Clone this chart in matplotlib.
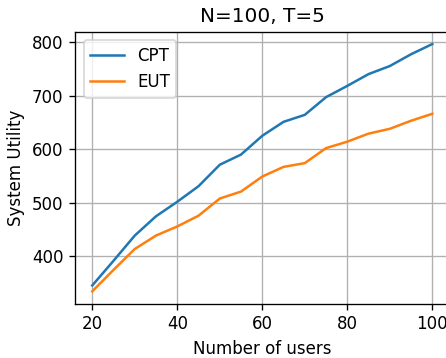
import matplotlib
matplotlib.use("Agg")
import matplotlib.pyplot as plt

users = [20, 25, 30, 35, 40, 45, 50, 55, 60, 65, 70, 75, 80, 85, 90, 95, 100]
cpt = [346, 392, 439, 475, 502, 531, 571, 590, 625, 651, 664, 697, 718, 740, 755, 777, 796]
eut = [335, 375, 414, 439, 456, 476, 508, 521, 549, 567, 574, 602, 614, 629, 638, 653, 666]

fig = plt.figure(figsize=(446 / 120, 358 / 120), dpi=120)
ax = fig.add_axes([0.1688, 0.1517, 0.8386, 0.7598])
ax.plot(users, cpt, label="CPT")
ax.plot(users, eut, label="EUT")
ax.set_xticks([20, 40, 60, 80, 100])
ax.set_yticks([400, 500, 600, 700, 800])
ax.grid(True)
ax.set_xlabel("Number of users")
ax.set_ylabel("System Utility")
ax.set_title("N=100, T=5")
ax.legend(loc="upper left")
fig.savefig("out.png", dpi=120)
